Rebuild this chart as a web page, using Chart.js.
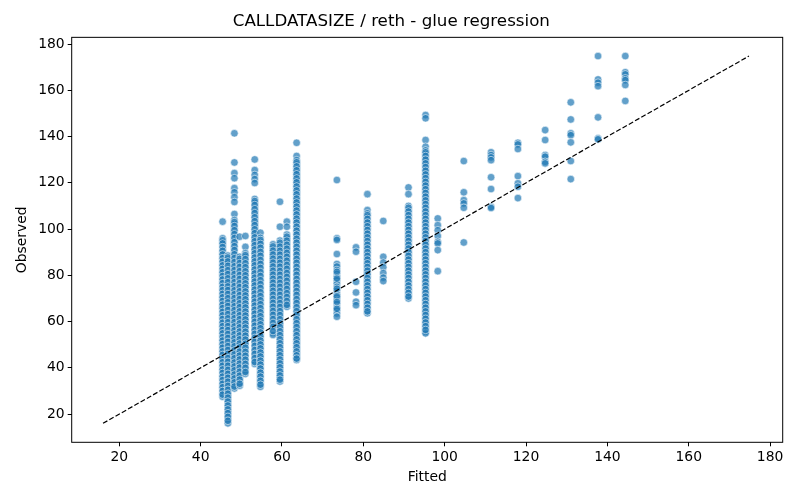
<!DOCTYPE html>
<html>
<head>
<meta charset="utf-8">
<script src="https://cdn.jsdelivr.net/npm/chart.js@4/dist/chart.umd.min.js"></script>
<style>
  body { margin: 0; background: #fff; }
  #wrap { width: 800px; height: 500px; }
</style>
</head>
<body>
<div id="wrap"><canvas id="chart" width="800" height="500"></canvas></div>
<script>
// fitted value of each column of points
const fitted = [45.4, 46.7, 48.3, 49.6, 51.0, 53.3, 54.7, 57.8, 59.5, 61.2, 63.6,
  73.5, 78.2, 81.0, 84.9, 91.1, 95.3, 98.3, 104.7, 111.4, 118.0, 124.7, 131.0, 137.7, 144.4];

// observed values, one list per fitted column (same order as above)
const observed = [
  [103.2, 96.0, 94.5, 93.1, 91.4, 89.8, 88.2, 86.7, 85.0, 83.6, 82.1, 80.5, 79.0, 77.4, 75.8, 74.3, 72.9, 71.2, 69.7, 68.1, 66.6, 65.0, 63.5, 61.9, 60.3, 58.8, 57.2, 55.7, 54.1, 52.6, 51.0, 49.5, 47.9, 46.4, 44.8, 43.2, 41.7, 40.1, 38.6, 37.0, 35.5, 33.9, 32.4, 30.8, 29.2, 27.5],
  [88.5, 86.9, 85.2, 83.0, 81.4, 79.6, 77.9, 76.1, 74.4, 72.8, 71.0, 69.2, 67.5, 65.9, 64.1, 62.3, 60.6, 58.9, 57.2, 55.4, 53.8, 52.1, 50.3, 48.6, 46.9, 45.1, 43.4, 41.8, 40.0, 38.3, 36.6, 34.9, 33.1, 31.4, 29.7, 28.0, 26.3, 24.6, 22.9, 21.2, 19.6, 18.0, 16.0],
  [141.4, 128.8, 124.2, 122.0, 117.7, 115.9, 113.8, 111.7, 106.5, 103.9, 102.2, 100.4, 98.7, 97.0, 95.2, 93.5, 91.8, 90.0, 88.3, 86.6, 84.8, 83.1, 81.4, 79.6, 77.9, 76.2, 74.4, 72.7, 71.0, 69.2, 67.5, 65.8, 64.0, 62.3, 60.6, 58.8, 57.1, 55.4, 53.6, 51.9, 50.2, 48.4, 46.7, 45.0, 43.2, 41.5, 39.8, 38.0, 36.3, 34.6, 32.8, 31.1],
  [96.7, 88.0, 86.2, 84.5, 82.7, 81.0, 79.3, 77.5, 75.8, 74.0, 72.3, 70.6, 68.8, 67.1, 65.3, 63.6, 61.9, 60.1, 58.4, 56.6, 54.9, 53.2, 51.4, 49.7, 47.9, 46.2, 44.5, 42.7, 41.0, 39.2, 37.5, 35.8, 34.0, 32.3],
  [97.0, 92.3, 89.6, 87.9, 86.1, 84.4, 82.6, 80.9, 79.2, 77.4, 75.7, 73.9, 72.2, 70.5, 68.7, 67.0, 65.2, 63.5, 61.8, 60.0, 58.3, 56.5, 54.8, 53.1, 51.3, 49.6, 47.8, 46.1, 44.4, 42.6, 40.9, 39.1, 37.4],
  [130.1, 125.5, 123.4, 121.6, 119.9, 113.0, 111.3, 109.5, 107.8, 106.0, 104.3, 102.6, 100.8, 99.1, 97.3, 95.6, 93.9, 92.1, 90.4, 88.6, 86.9, 85.2, 83.4, 81.7, 79.9, 78.2, 76.5, 74.7, 73.0, 71.2, 69.5, 67.8, 66.0, 64.3, 62.5, 60.8, 59.1, 57.3, 55.6, 53.8, 52.1, 50.4, 48.6, 46.9, 45.1, 43.4, 41.7],
  [98.4, 96.2, 94.5, 92.8, 91.0, 89.3, 87.5, 85.8, 84.1, 82.3, 80.6, 78.8, 77.1, 75.4, 73.6, 71.9, 70.1, 68.4, 66.7, 64.9, 63.2, 61.4, 59.7, 58.0, 56.2, 54.5, 52.7, 51.0, 49.3, 47.5, 45.8, 44.0, 42.3, 40.6, 38.8, 37.1, 35.3, 33.6, 31.8],
  [93.4, 91.6, 89.9, 88.1, 86.4, 84.7, 82.9, 81.2, 79.4, 77.7, 76.0, 74.2, 72.5, 70.7, 69.0, 67.3, 65.5, 63.8, 62.0, 60.3, 58.6, 56.8, 55.1, 54.2],
  [111.8, 101.0, 95.0, 93.3, 91.5, 89.8, 88.0, 86.3, 84.6, 82.8, 81.1, 79.3, 77.6, 75.9, 74.1, 72.4, 70.6, 68.9, 67.2, 65.4, 63.7, 61.9, 60.2, 58.5, 56.7, 55.0, 53.2, 51.5, 49.8, 48.0, 46.3, 44.5, 42.8, 41.1, 39.3, 37.6, 35.8, 34.1],
  [103.2, 101.0, 97.6, 95.9, 94.1, 92.4, 90.6, 88.9, 87.2, 85.4, 83.7, 81.9, 80.2, 78.5, 76.7, 75.0, 73.2, 71.5, 69.8, 68.0, 66.4],
  [137.3, 131.6, 129.8, 128.0, 126.3, 124.6, 122.8, 121.1, 119.3, 117.6, 115.9, 114.1, 112.4, 110.6, 108.9, 107.2, 105.4, 103.7, 101.9, 100.2, 98.5, 96.7, 95.0, 93.2, 91.5, 89.8, 88.0, 86.3, 84.5, 82.8, 81.1, 79.3, 77.6, 75.8, 74.1, 72.4, 70.6, 68.9, 67.1, 65.4, 63.7, 61.9, 60.2, 58.5, 56.7, 55.0, 53.2, 51.5, 49.8, 48.0, 46.3, 44.5, 43.4],
  [121.2, 96.0, 95.3, 89.2, 84.9, 83.8, 82.3, 80.6, 79.4, 77.9, 76.5, 75.0, 73.3, 71.8, 70.4, 69.3, 67.7, 66.1, 64.8, 63.5, 62.1],
  [92.1, 90.2, 77.2, 72.6, 68.6, 67.1],
  [115.1, 108.2, 106.8, 105.2, 103.6, 102.0, 100.4, 98.8, 97.2, 95.6, 94.0, 92.4, 90.8, 89.2, 87.6, 86.0, 84.4, 82.8, 81.2, 79.6, 78.0, 76.4, 74.8, 73.2, 71.6, 70.0, 68.4, 66.8, 65.2, 63.6],
  [103.5, 88.0, 85.5, 83.5, 81.0, 79.0, 77.5],
  [118.0, 115.1, 110.0, 108.4, 106.8, 105.2, 103.6, 102.0, 100.4, 98.8, 97.2, 95.6, 94.0, 92.4, 90.8, 89.2, 87.6, 86.0, 84.4, 82.8, 81.2, 79.6, 78.0, 76.4, 74.8, 73.2, 71.6, 70.0],
  [149.3, 147.9, 138.5, 135.6, 134.0, 132.4, 130.8, 129.2, 127.6, 126.0, 124.4, 122.8, 121.2, 119.6, 118.0, 116.4, 114.8, 113.2, 111.6, 110.0, 108.4, 106.8, 105.2, 103.6, 102.0, 100.4, 98.8, 97.2, 95.6, 94.0, 92.4, 90.8, 89.2, 87.6, 86.0, 84.4, 82.8, 81.2, 79.6, 78.0, 76.4, 74.8, 73.2, 71.6, 70.0, 68.4, 66.8, 65.2, 63.6, 62.0, 60.4, 58.8, 57.2, 55.6, 54.9],
  [104.6, 101.7, 99.5, 97.0, 94.5, 93.8, 90.9, 81.8],
  [129.4, 115.9, 112.5, 111.1, 109.2, 94.2],
  [133.2, 132.0, 131.0, 129.8, 122.4, 117.3, 109.6, 109.1],
  [137.3, 136.6, 134.6, 122.9, 119.8, 118.3, 113.4],
  [142.8, 138.5, 132.0, 131.3, 129.1, 128.4],
  [154.8, 147.4, 141.4, 140.6, 137.5, 129.4, 121.6],
  [174.8, 164.7, 163.3, 161.8, 148.3, 139.2, 138.8],
  [174.8, 167.8, 166.9, 165.2, 164.4, 162.3, 155.4]
];

// further observations packed in between in the dense columns (same order as fitted)
const observedMore = [
  [95.2, 93.8, 92.2, 90.6, 89.0, 87.4, 85.9, 84.3, 82.8, 81.3, 79.7, 78.2, 76.6, 75.0, 73.6, 72.0, 70.5, 68.9, 67.3, 65.8, 64.2, 62.7, 61.1, 59.5, 58.0, 56.4, 54.9, 53.3, 51.8, 50.2, 48.7, 47.1, 45.6, 44.0, 42.4, 40.9, 39.3, 37.8, 36.2, 34.7, 33.1, 31.6, 30.0, 28.4],
  [87.7, 86.0, 84.1, 82.2, 80.5, 78.7, 77.0, 75.2, 73.6, 71.9, 70.1, 68.3, 66.7, 65.0, 63.2, 61.4, 59.7, 58.0, 56.3, 54.6, 52.9, 51.2, 49.4, 47.7, 46.0, 44.2, 42.6, 40.9, 39.1, 37.4, 35.7, 34.0, 32.2, 30.5, 28.8, 27.1, 25.4, 23.7, 22.0, 20.4, 18.8, 17.1],
  [103.0, 101.3, 99.5, 97.8, 96.1, 94.3, 92.6, 90.9, 89.1, 87.4, 85.7, 83.9, 82.2, 80.5, 78.7, 77.0, 75.3, 73.5, 71.8, 70.1, 68.3, 66.6, 64.9, 63.1, 61.4, 59.7, 57.9, 56.2, 54.5, 52.7, 51.0, 49.3, 47.5, 45.8, 44.1, 42.3, 40.6, 38.9, 37.1, 35.4, 33.7, 31.9],
  [87.1, 85.3, 83.6, 81.8, 80.1, 78.4, 76.6, 74.9, 73.1, 71.4, 69.7, 67.9, 66.2, 64.4, 62.7, 61.0, 59.2, 57.5, 55.7, 54.0, 52.3, 50.5, 48.8, 47.0, 45.3, 43.6, 41.8, 40.1, 38.3, 36.6, 34.9, 33.1],
  [88.7, 87.0, 85.2, 83.5, 81.7, 80.0, 78.3, 76.5, 74.8, 73.0, 71.3, 69.6, 67.8, 66.1, 64.3, 62.6, 60.9, 59.1, 57.4, 55.6, 53.9, 52.2, 50.4, 48.7, 46.9, 45.2, 43.5, 41.7, 40.0, 38.2],
  [112.1, 110.4, 108.6, 106.9, 105.1, 103.4, 101.7, 99.9, 98.2, 96.4, 94.7, 93.0, 91.2, 89.5, 87.7, 86.0, 84.3, 82.5, 80.8, 79.0, 77.3, 75.6, 73.8, 72.1, 70.3, 68.6, 66.9, 65.1, 63.4, 61.6, 59.9, 58.2, 56.4, 54.7, 52.9, 51.2, 49.5, 47.7, 46.0, 44.2, 42.5],
  [95.3, 93.6, 91.9, 90.1, 88.4, 86.6, 84.9, 83.2, 81.4, 79.7, 77.9, 76.2, 74.5, 72.7, 71.0, 69.2, 67.5, 65.8, 64.0, 62.3, 60.5, 58.8, 57.1, 55.3, 53.6, 51.8, 50.1, 48.4, 46.6, 44.9, 43.1, 41.4, 39.7, 37.9, 36.2, 34.4, 32.7],
  [92.5, 90.7, 89.0, 87.2, 85.5, 83.8, 82.0, 80.3, 78.5, 76.8, 75.1, 73.3, 71.6, 69.8, 68.1, 66.4, 64.6, 62.9, 61.1, 59.4, 57.7, 55.9],
  [94.1, 92.4, 90.6, 88.9, 87.1, 85.4, 83.7, 81.9, 80.2, 78.4, 76.7, 75.0, 73.2, 71.5, 69.7, 68.0, 66.3, 64.5, 62.8, 61.0, 59.3, 57.6, 55.8, 54.1, 52.3, 50.6, 48.9, 47.1, 45.4, 43.6, 41.9, 40.2, 38.4, 36.7, 34.9],
  [96.7, 95.0, 93.2, 91.5, 89.7, 88.0, 86.3, 84.5, 82.8, 81.0, 79.3, 77.6, 75.8, 74.1, 72.3, 70.6, 68.9, 67.2],
  [128.9, 127.1, 125.4, 123.7, 121.9, 120.2, 118.4, 116.7, 115.0, 113.2, 111.5, 109.7, 108.0, 106.3, 104.5, 102.8, 101.0, 99.3, 97.6, 95.8, 94.1, 92.3, 90.6, 88.9, 87.1, 85.4, 83.6, 81.9, 80.2, 78.4, 76.7, 74.9, 73.2, 71.5, 69.7, 68.0, 66.2, 64.5, 62.8, 61.0, 59.3, 57.6, 55.8, 54.1, 52.3, 50.6, 48.9, 47.1, 45.4, 44.0],
  [81.5, 78.6, 74.2, 70.9, 68.5, 65.5],
  [],
  [106.0, 104.4, 102.8, 101.2, 99.6, 98.0, 96.4, 94.8, 93.2, 91.6, 90.0, 88.4, 86.8, 85.2, 83.6, 82.0, 80.4, 78.8, 77.2, 75.6, 74.0, 72.4, 70.8, 69.2, 67.6, 66.0, 64.4],
  [],
  [109.2, 107.6, 106.0, 104.4, 102.8, 101.2, 99.6, 98.0, 96.4, 94.8, 93.2, 91.6, 90.0, 88.4, 86.8, 85.2, 83.6, 82.0, 80.4, 78.8, 77.2, 75.6, 74.0, 72.4, 70.8],
  [133.2, 131.6, 130.0, 128.4, 126.8, 125.2, 123.6, 122.0, 120.4, 118.8, 117.2, 115.6, 114.0, 112.4, 110.8, 109.2, 107.6, 106.0, 104.4, 102.8, 101.2, 99.6, 98.0, 96.4, 94.8, 93.2, 91.6, 90.0, 88.4, 86.8, 85.2, 83.6, 82.0, 80.4, 78.8, 77.2, 75.6, 74.0, 72.4, 70.8, 69.2, 67.6, 66.0, 64.4, 62.8, 61.2, 59.6, 58.0, 56.4],
  [], [], [], [], [], [], [], []
];

const tickValues = [20, 40, 60, 80, 100, 120, 140, 160, 180];

// build points
const points = [];
fitted.forEach((fx, i) => {
  observed[i].forEach(oy => points.push({ x: fx, y: oy }));
  observedMore[i].forEach(oy => points.push({ x: fx, y: oy }));
});

// y = x reference line across the data range
const allVals = fitted.concat(...observed);
const lo = Math.min(...allVals);
const hi = Math.max(...allVals);

Chart.defaults.font.family = "'DejaVu Sans', sans-serif";
Chart.defaults.color = '#000';

// matplotlib style box around the plot
const framePlugin = {
  id: 'frame',
  afterDraw(chart) {
    const { ctx, chartArea: a } = chart;
    ctx.save();
    ctx.strokeStyle = '#000';
    ctx.lineWidth = 1;
    ctx.strokeRect(a.left, a.top, a.right - a.left, a.bottom - a.top);
    ctx.restore();
  }
};

const setTicks = scale => { scale.ticks = tickValues.map(v => ({ value: v })); };

const ctx = document.getElementById('chart').getContext('2d');
new Chart(ctx, {
  type: 'scatter',
  data: {
    datasets: [
      {
        type: 'line',
        data: [{ x: lo, y: lo }, { x: hi, y: hi }],
        borderColor: '#000',
        borderWidth: 1.2,
        borderDash: [5, 2.2],
        pointRadius: 0,
        fill: false
      },
      {
        data: points,
        backgroundColor: 'rgba(31,119,180,0.7)',
        borderColor: 'rgba(255,255,255,0.7)',
        borderWidth: 0.8,
        pointRadius: 3.8,
        pointHoverRadius: 3.8
      }
    ]
  },
  options: {
    responsive: false,
    animation: false,
    events: [],
    layout: { padding: { left: 0, right: 17.3, top: 0, bottom: 0 } },
    plugins: {
      legend: { display: false },
      tooltip: { enabled: false },
      title: {
        display: true,
        text: 'CALLDATASIZE / reth - glue regression',
        font: { size: 16.7, weight: 'normal' },
        color: '#000',
        padding: { top: 12, bottom: 5.3 }
      }
    },
    scales: {
      x: {
        type: 'linear',
        min: 8.3,
        max: 183.1,
        afterBuildTicks: setTicks,
        afterFit: s => { s.height = 57.7; },
        border: { display: false },
        grid: { drawOnChartArea: false, drawTicks: true, tickLength: 4, tickColor: '#000', lineWidth: 1 },
        ticks: { font: { size: 13.9 }, padding: 3, maxRotation: 0 },
        title: { display: true, text: 'Fitted', font: { size: 13.9 }, padding: { top: 0, bottom: 14.6 } }
      },
      y: {
        type: 'linear',
        min: 7.8,
        max: 182.9,
        afterBuildTicks: setTicks,
        afterFit: s => { s.width = 71.7; },
        border: { display: false },
        grid: { drawOnChartArea: false, drawTicks: true, tickLength: 4, tickColor: '#000', lineWidth: 1 },
        ticks: { font: { size: 13.9 }, padding: 3 },
        title: { display: true, text: 'Observed', font: { size: 13.9 }, padding: { top: 13.6, bottom: 0 } }
      }
    }
  },
  plugins: [framePlugin]
});
</script>
</body>
</html>
